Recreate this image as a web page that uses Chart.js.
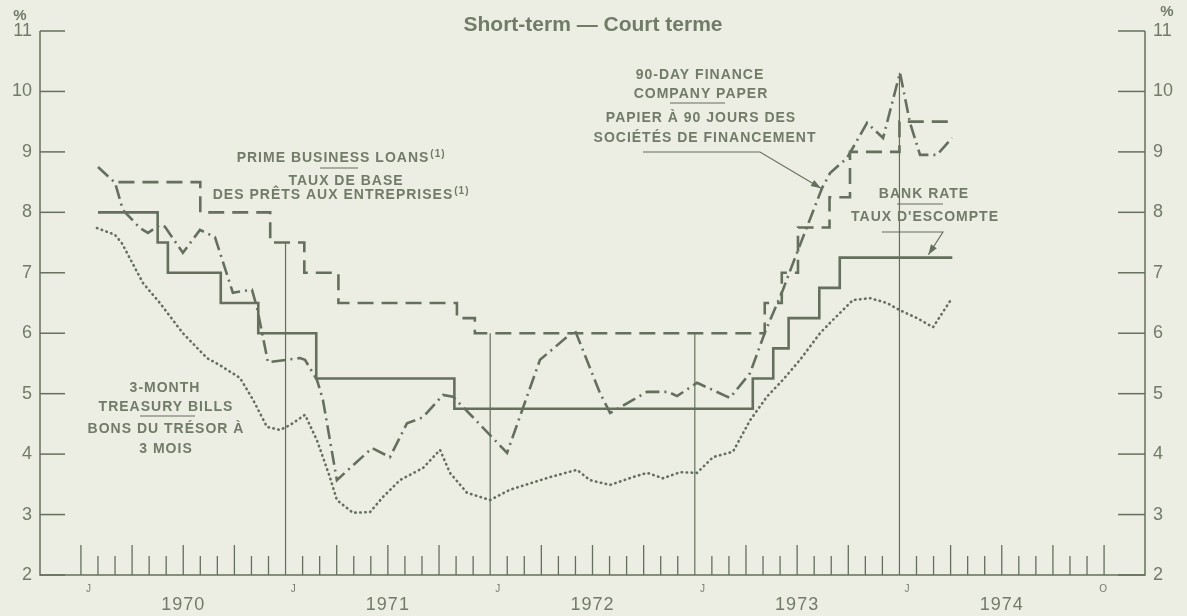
<!DOCTYPE html>
<html lang="en">
<head>
    <meta charset="UTF-8">
    <title>Short-term - Court terme</title>
    <script src="https://cdn.jsdelivr.net/npm/chart.js"></script>
    <style>
        html, body {
            margin: 0;
            padding: 0;
            background: #eceee3;
        }
        #chartCanvas {
            display: block;
        }
    </style>
</head>
<body>
    <canvas id="chartCanvas" width="1187" height="616"></canvas>

    <script>
        // x values are months counted from the start of January 1970
        const yTicks = [2, 3, 4, 5, 6, 7, 8, 9, 10, 11];
        const yearLabels = ["1970", "1971", "1972", "1973", "1974"];
        const yearMid = [6, 18, 30, 42, 54];
        const monthLetters = ["J", "J", "J", "J", "J", "O"];
        const monthLetterAt = [0, 12, 24, 36, 48, 59.5];
        const yearLineAt = [12, 24, 36, 48];
        const yearLineTop = [7.5, 6.0, 6.0, 10.31];

        // bank rate (step changes)
        const bankMonths = [1.0, 4.5, 5.1, 8.2, 10.4, 13.8, 21.9, 39.4, 40.6, 41.5, 43.3, 44.5, 51.1];
        const bankRate   = [8.0, 7.5, 7.0, 6.5, 6.0, 5.25, 4.75, 5.25, 5.75, 6.25, 6.75, 7.25, 7.25];

        // prime business loans (step changes)
        const primeMonths = [2.2, 7.0, 11.1, 13.1, 15.1, 22.05, 23.1, 40.1, 41.1, 42.05, 43.9, 45.1, 48.0, 51.1];
        const primeRate   = [8.5, 8.0, 7.5, 7.0, 6.5, 6.25, 6.0, 6.5, 7.0, 7.75, 8.25, 9.0, 9.5, 9.5];

        // 90-day finance company paper
        const paperMonths = [1.0, 2.0, 2.46, 3.46, 3.93, 4.63, 4.93, 5.98, 6.98, 7.86, 8.91, 10.03, 10.32, 10.97,
            12.84, 13.14, 13.84, 14.19, 15.01, 17.07, 18.12, 19.12, 20.06, 21.23, 21.82, 22.99, 24.99, 26.92,
            28.97, 30.44, 31.03, 33.2, 34.43, 34.96, 36.13, 38.06, 39.24, 40.12, 41.17, 41.99, 43.46, 43.93,
            44.93, 46.1, 47.04, 48.03, 48.62, 49.21, 50.2, 51.08];
        const paperRate = [8.75, 8.49, 8.04, 7.74, 7.66, 7.79, 7.76, 7.33, 7.71, 7.59, 6.67, 6.72, 6.43, 5.52,
            5.59, 5.56, 5.23, 4.90, 3.57, 4.10, 3.95, 4.51, 4.61, 4.98, 4.95, 4.61, 4.02, 5.56,
            6.05, 5.01, 4.68, 5.03, 5.03, 4.96, 5.18, 4.93, 5.34, 6.02, 6.72, 7.33, 8.40, 8.65,
            8.90, 9.48, 9.23, 10.31, 9.48, 8.95, 8.95, 9.23];

        // 3-month treasury bills
        const billsMonths = [0.94, 1.99, 2.4, 3.64, 4.63, 5.98, 7.39, 8.15, 9.33, 10.09, 10.91, 11.67, 12.26, 13.14,
            13.84, 14.6, 15.01, 15.95, 16.95, 17.71, 18.71, 20.06, 21.06, 21.64, 22.64, 23.99, 25.16, 27.51,
            29.09, 29.85, 31.03, 32.38, 33.2, 34.13, 35.13, 36.13, 37.07, 38.24, 39.24, 40.23, 41.17, 42.17,
            43.34, 44.1, 45.28, 46.28, 47.27, 48.03, 49.03, 49.97, 51.08];
        const billsRate = [7.74, 7.63, 7.49, 6.83, 6.50, 6.00, 5.59, 5.47, 5.26, 4.90, 4.45, 4.40, 4.48, 4.65,
            4.23, 3.62, 3.24, 3.03, 3.04, 3.29, 3.57, 3.77, 4.07, 3.69, 3.36, 3.24, 3.41, 3.62,
            3.74, 3.57, 3.49, 3.62, 3.69, 3.60, 3.70, 3.69, 3.95, 4.04, 4.56, 4.95, 5.23, 5.56,
            6.00, 6.22, 6.55, 6.58, 6.50, 6.38, 6.25, 6.10, 6.58];

        const INK = "#656f5d";
        const TXT = "#717b68";
        const BG = "#eceee3";
        const FONT = '"Liberation Sans", Arial, sans-serif';

        const toPoints = (xs, ys) => xs.map((m, i) => ({ x: m, y: ys[i] }));

        // centred label, optional superscript after it
        function centerText(ctx, str, cx, by, sup) {
            const w = ctx.measureText(str).width;
            const x0 = cx - w / 2;
            ctx.textAlign = "left";
            ctx.fillText(str, x0, by);
            if (sup) {
                const mainFont = ctx.font;
                ctx.font = "bold 10px " + FONT;
                ctx.fillText(sup, x0 + w + 1, by - 5);
                ctx.font = mainFont;
            }
        }

        function line(ctx, pts) {
            ctx.beginPath();
            ctx.moveTo(pts[0][0], pts[0][1]);
            for (let i = 1; i < pts.length; i++) ctx.lineTo(pts[i][0], pts[i][1]);
            ctx.stroke();
        }

        function arrowHead(ctx, x0, y0, x1, y1) {
            const ang = Math.atan2(y1 - y0, x1 - x0);
            const len = 10, half = 3.5;
            ctx.beginPath();
            ctx.moveTo(x1, y1);
            ctx.lineTo(x1 - len * Math.cos(ang) + half * Math.sin(ang), y1 - len * Math.sin(ang) - half * Math.cos(ang));
            ctx.lineTo(x1 - len * Math.cos(ang) - half * Math.sin(ang), y1 - len * Math.sin(ang) + half * Math.cos(ang));
            ctx.closePath();
            ctx.fill();
        }

        const framePlugin = {
            id: "frame",
            beforeDraw(chart) {
                const { ctx, width, height } = chart;
                ctx.save();
                ctx.fillStyle = BG;
                ctx.fillRect(0, 0, width, height);
                ctx.restore();
            },
            beforeDatasetsDraw(chart) {
                const { ctx, scales: { x, y } } = chart;
                // thin lines from the January boundaries up to the top curve
                ctx.save();
                ctx.strokeStyle = INK;
                ctx.lineWidth = 1.2;
                yearLineAt.forEach((m, i) => {
                    const px = x.getPixelForValue(m);
                    line(ctx, [[px, y.getPixelForValue(2)], [px, y.getPixelForValue(yearLineTop[i])]]);
                });
                ctx.restore();
            },
            afterDatasetsDraw(chart) {
                const { ctx, chartArea: a, scales: { x, y } } = chart;
                ctx.save();
                ctx.strokeStyle = INK;
                ctx.fillStyle = TXT;
                ctx.lineWidth = 1.5;

                // frame: left, bottom, right
                line(ctx, [[a.left, a.top], [a.left, a.bottom], [a.right, a.bottom], [a.right, a.top]]);

                // y ticks and labels on both sides
                ctx.font = "18px " + FONT;
                ctx.textBaseline = "middle";
                yTicks.forEach(v => {
                    const py = y.getPixelForValue(v);
                    line(ctx, [[a.left, py], [a.left + 25, py]]);
                    line(ctx, [[a.right - 27, py], [a.right, py]]);
                    ctx.textAlign = "right";
                    ctx.fillText(String(v), a.left - 8, py);
                    ctx.textAlign = "left";
                    ctx.fillText(String(v), a.right + 8, py);
                });
                ctx.textBaseline = "alphabetic";
                ctx.font = "bold 15px " + FONT;
                ctx.textAlign = "center";
                ctx.fillText("%", a.left - 20, 20);
                ctx.fillText("%", a.right + 22, 16);

                // monthly ticks
                ctx.lineWidth = 1.3;
                for (let m = 0; m <= 60; m++) {
                    if (yearLineAt.includes(m)) continue;
                    const px = x.getPixelForValue(m);
                    const h = m % 3 === 0 ? 30 : 19;
                    line(ctx, [[px, a.bottom], [px, a.bottom - h]]);
                }

                // month letters and years
                ctx.font = "10px " + FONT;
                ctx.textAlign = "center";
                monthLetters.forEach((s, i) => {
                    ctx.fillText(s, x.getPixelForValue(monthLetterAt[i] + 0.45), a.bottom + 17);
                });
                ctx.font = "18px " + FONT;
                ctx.letterSpacing = "1px";
                yearLabels.forEach((s, i) => {
                    ctx.fillText(s, x.getPixelForValue(yearMid[i]), a.bottom + 35);
                });

                // title
                ctx.letterSpacing = "0px";
                ctx.font = "bold 21px " + FONT;
                ctx.textAlign = "center";
                ctx.fillText("Short-term \u2014 Court terme", 593, 31);

                // series labels
                ctx.font = "bold 14px " + FONT;
                ctx.letterSpacing = "1px";
                centerText(ctx, "PRIME BUSINESS LOANS", 333, 162, "(1)");
                centerText(ctx, "TAUX DE BASE", 346, 185);
                centerText(ctx, "DES PR\u00CATS AUX ENTREPRISES", 333, 199, "(1)");

                centerText(ctx, "90-DAY FINANCE", 700, 79);
                centerText(ctx, "COMPANY PAPER", 701, 98);
                centerText(ctx, "PAPIER \u00C0 90 JOURS DES", 701, 122);
                centerText(ctx, "SOCI\u00C9T\u00C9S DE FINANCEMENT", 705, 142);

                centerText(ctx, "BANK RATE", 924, 198);
                centerText(ctx, "TAUX D'ESCOMPTE", 925, 221);

                centerText(ctx, "3-MONTH", 165, 392);
                centerText(ctx, "TREASURY BILLS", 166, 411);
                centerText(ctx, "BONS DU TR\u00C9SOR \u00C0", 166, 433);
                centerText(ctx, "3 MOIS", 166, 453);
                ctx.letterSpacing = "0px";

                // separators between English and French names
                ctx.lineWidth = 1.1;
                line(ctx, [[320, 168], [358, 168]]);
                line(ctx, [[670, 103], [725, 103]]);
                line(ctx, [[897, 204], [943, 204]]);
                line(ctx, [[140, 416], [195, 416]]);

                // leader arrows
                ctx.fillStyle = INK;
                const pTip = [x.getPixelForValue(43.4), y.getPixelForValue(8.4)];
                line(ctx, [[643, 152], [760, 152], pTip]);
                arrowHead(ctx, 760, 152, pTip[0], pTip[1]);

                const bTip = [x.getPixelForValue(49.7), y.getPixelForValue(7.3)];
                line(ctx, [[882, 232], [943, 232], bTip]);
                arrowHead(ctx, 943, 232, bTip[0], bTip[1]);

                ctx.restore();
            }
        };

        const ctx = document.getElementById("chartCanvas").getContext("2d");
        const chart = new Chart(ctx, {
            type: "line",
            data: {
                datasets: [
                    {
                        label: "Bank rate",
                        data: toPoints(bankMonths, bankRate),
                        borderColor: INK,
                        borderWidth: 2.6,
                        stepped: true,
                    },
                    {
                        label: "Prime business loans",
                        data: toPoints(primeMonths, primeRate),
                        borderColor: INK,
                        borderWidth: 2.6,
                        borderDash: [16, 8],
                        stepped: true,
                    },
                    {
                        label: "90-day finance company paper",
                        data: toPoints(paperMonths, paperRate),
                        borderColor: INK,
                        borderWidth: 2.6,
                        borderDash: [14, 5, 2, 5],
                    },
                    {
                        label: "3-month treasury bills",
                        data: toPoints(billsMonths, billsRate),
                        borderColor: INK,
                        borderWidth: 2.6,
                        borderDash: [0.5, 4.5],
                        borderCapStyle: "round",
                    },
                ],
            },
            options: {
                responsive: false,
                animation: false,
                layout: { padding: { left: 40, right: 42, top: 31, bottom: 41 } },
                elements: { point: { radius: 0 }, line: { tension: 0 } },
                plugins: { legend: { display: false }, tooltip: { enabled: false } },
                scales: {
                    x: { type: "linear", min: -2.4, max: 62.4, display: false },
                    y: { type: "linear", min: 2, max: 11, display: false },
                },
            },
            plugins: [framePlugin],
        });
    </script>
</body>
</html>
